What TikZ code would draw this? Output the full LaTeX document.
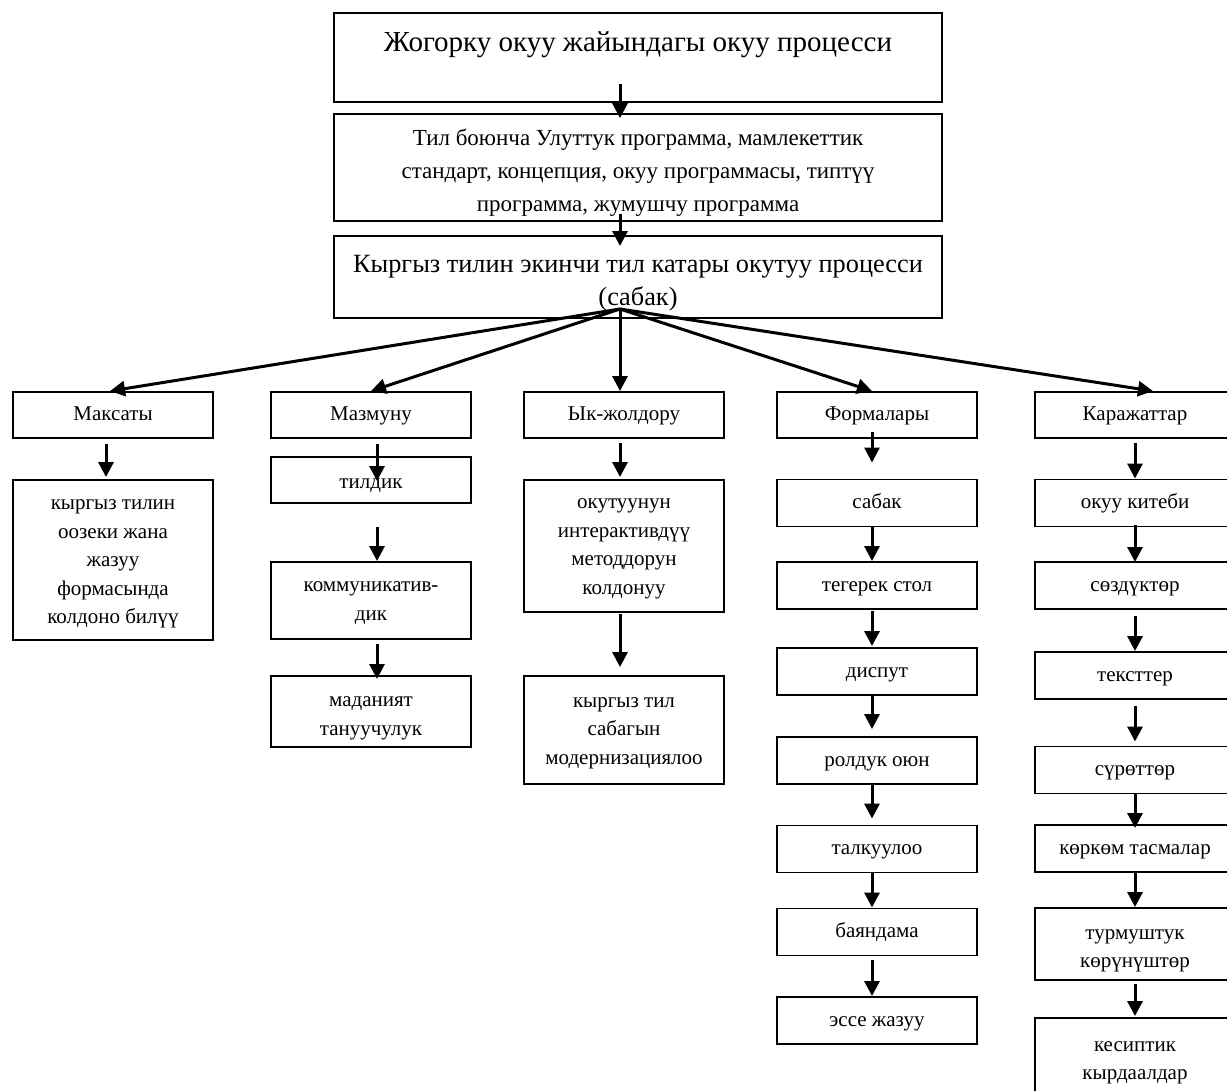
\documentclass[tikz,border=0pt]{standalone}
\usepackage{fontspec}
\setmainfont{Liberation Serif}
\usetikzlibrary{arrows.meta}

\begin{document}
\begin{tikzpicture}[x=1pt, y=-1pt,
  kutu/.style={draw, line width=1.9pt, minimum width=200pt, inner sep=0pt, align=center, font=\fontsize{21}{28.5}\selectfont,
    execute at begin node=\strut, execute at end node=\strut},
  chong/.style={kutu, minimum width=608pt, font=\fontsize{23}{33}\selectfont},
  pil/.style={line width=3pt, -{Triangle[length=15pt,width=15pt]}}]
\clip (0,0) rectangle (1227,1091);

\node[chong, minimum height=89pt, font=\fontsize{29}{33}\selectfont] (jogorku) at (638,57.5) {\rule{0pt}{31pt}Жогорку окуу жайындагы окуу процесси\\ \mbox{}};
\node[chong, minimum height=105pt] (programma) at (638,167.5) {\rule{0pt}{31pt}Тил боюнча Улуттук программа, мамлекеттик\\ стандарт, концепция, окуу программасы, типтүү\\ программа, жумушчу программа};
\node[chong, minimum height=82pt, font=\fontsize{26.3}{33}\selectfont] (sabak) at (638,277) {\rule{0pt}{33pt}Кыргыз тилин экинчи тил катары окутуу процесси\\ (сабак)};

\node[kutu, minimum height=46pt] (maksat) at (113,415) {Максаты};
\node[kutu, minimum height=46pt] (mazmun) at (371,415) {Мазмуну};
\node[kutu, minimum height=46pt] (ykjol) at (624,415) {Ык-жолдору};
\node[kutu, minimum height=46pt] (forma) at (877,415) {Формалары};
\node[kutu, minimum height=46pt] (karajat) at (1135,415) {Каражаттар};

\node[kutu, minimum height=160pt] (maksat1) at (113,560) {\rule{0pt}{22pt}кыргыз тилин\\ оозеки жана\\ жазуу\\ формасында\\ колдоно билүү};

\node[kutu, minimum height=46pt] (tildik) at (371,480) {\rule{0pt}{26pt}тилдик};
\node[kutu, minimum height=77pt] (kommun) at (371,600.5) {\strut коммуникатив-\\ дик};
\node[kutu, minimum height=71pt] (madan) at (371,711.5) {\rule{0pt}{28pt}маданият\\ тануучулук};

\node[kutu, minimum height=132pt] (interakt) at (624,546) {\strut окутуунун\\ интерактивдүү\\ методдорун\\ колдонуу};
\node[kutu, minimum height=108pt] (modern) at (624,730) {\strut кыргыз тил\\ сабагын\\ модернизациялоо};

\node[kutu, minimum height=47pt] (sabakf) at (877,503) {сабак};
\node[kutu, minimum height=47pt] (tegerek) at (877,585.5) {тегерек стол};
\node[kutu, minimum height=47pt] (disput) at (877,671.5) {диспут};
\node[kutu, minimum height=47pt] (roldk) at (877,760.5) {ролдук оюн};
\node[kutu, minimum height=47pt] (talkuu) at (877,849) {талкуулоо};
\node[kutu, minimum height=47pt] (bayan) at (877,932) {баяндама};
\node[kutu, minimum height=47pt] (esse) at (877,1020.5) {эссе жазуу};

\node[kutu, minimum height=47pt] (kitep) at (1135,503) {окуу китеби};
\node[kutu, minimum height=47pt] (sozduk) at (1135,585.5) {сөздүктөр};
\node[kutu, minimum height=47pt] (tekst) at (1135,675.5) {тексттер};
\node[kutu, minimum height=47pt] (suret) at (1135,770) {сүрөттөр};
\node[kutu, minimum height=47pt] (tasma) at (1135,848.5) {көркөм тасмалар};
\node[kutu, minimum height=72pt] (turmush) at (1135,944) {\rule{0pt}{28pt}турмуштук\\ көрүнүштөр};
\node[kutu, minimum height=80pt] (kesip) at (1135,1058) {\rule{0pt}{24pt}кесиптик\\ кырдаалдар};

\draw[pil, shorten <=-19pt, shorten >=-5pt] ([xshift=-18pt]jogorku.south) -- ([xshift=-18pt]programma.north);
\draw[pil, shorten <=-8pt, shorten >=-11pt] ([xshift=-18pt]programma.south) -- ([xshift=-18pt]sabak.north);

\coordinate (tarmak) at (620,309);
\draw[pil] (tarmak) -- ([xshift=-3pt]maksat.north);
\draw[pil] (tarmak) -- (mazmun.north);
\draw[pil] (tarmak) -- ([xshift=-4pt]ykjol.north);
\draw[pil] (tarmak) -- ([xshift=-5pt]forma.north);
\draw[pil] (tarmak) -- ([xshift=18pt]karajat.north);

\draw[pil, shorten <=5pt, shorten >=2pt] ([xshift=-7pt]maksat.south) -- ([xshift=-7pt]maksat1.north);

\draw[pil, shorten <=5pt, shorten >=-25pt] ([xshift=6pt]mazmun.south) -- ([xshift=6pt]tildik.north);
\draw[pil, shorten <=23pt] ([xshift=6pt]tildik.south) -- ([xshift=6pt]kommun.north);
\draw[pil, shorten <=4pt, shorten >=-4pt] ([xshift=6pt]kommun.south) -- ([xshift=6pt]madan.north);

\draw[pil, shorten <=4pt, shorten >=2pt] ([xshift=-4pt]ykjol.south) -- ([xshift=-4pt]interakt.north);
\draw[pil, shorten <=1pt, shorten >=8pt] ([xshift=-4pt]interakt.south) -- ([xshift=-4pt]modern.north);

\draw[pil, shorten <=-7pt, shorten >=16pt] ([xshift=-5pt]forma.south) -- ([xshift=-5pt]sabakf.north);
\draw[pil] ([xshift=-5pt]sabakf.south) -- ([xshift=-5pt]tegerek.north);
\draw[pil, shorten <=1pt, shorten >=1pt] ([xshift=-5pt]tegerek.south) -- ([xshift=-5pt]disput.north);
\draw[pil, shorten >=7pt] ([xshift=-5pt]disput.south) -- ([xshift=-5pt]roldk.north);
\draw[pil, shorten >=6pt] ([xshift=-5pt]roldk.south) -- ([xshift=-5pt]talkuu.north);
\draw[pil] ([xshift=-5pt]talkuu.south) -- ([xshift=-5pt]bayan.north);
\draw[pil, shorten <=4pt] ([xshift=-5pt]bayan.south) -- ([xshift=-5pt]esse.north);

\draw[pil, shorten <=4pt] (karajat.south) -- (kitep.north);
\draw[pil, shorten <=-2pt, shorten >=-1pt] (kitep.south) -- (sozduk.north);
\draw[pil, shorten <=6pt] (sozduk.south) -- (tekst.north);
\draw[pil, shorten <=6pt, shorten >=4pt] (tekst.south) -- (suret.north);
\draw[pil, shorten >=-4pt] (suret.south) -- (tasma.north);
\draw[pil] (tasma.south) -- (turmush.north);
\draw[pil, shorten <=3pt, shorten >=1pt] (turmush.south) -- (kesip.north);

\end{tikzpicture}
\end{document}
